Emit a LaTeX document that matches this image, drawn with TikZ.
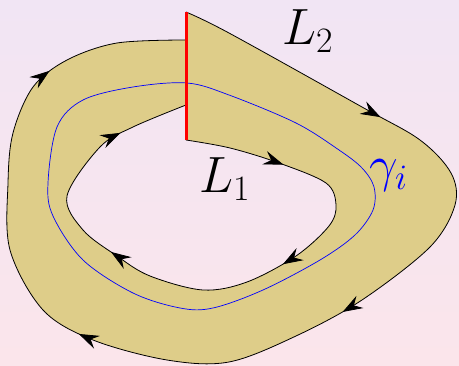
\RequirePackage{fix-cm}
\documentclass[tikz,border=0pt]{standalone}
\usetikzlibrary{arrows.meta,decorations.markings}
\definecolor{bgtop}{RGB}{241,229,244}
\definecolor{bgbot}{RGB}{251,229,235}
\definecolor{band}{RGB}{222,205,137}
\tikzset{myhead/.tip={Stealth[length=20pt,width=14pt,inset=7pt]}}
\begin{document}
\begin{tikzpicture}[x=1pt,y=-1pt,
  outerarrows/.style={postaction={decorate},decoration={markings,
    mark=at position 0.18 with {\arrow{myhead}},
    mark=at position 0.41 with {\arrow{myhead}},
    mark=at position 0.637 with {\arrow{myhead}},
    mark=at position 0.884 with {\arrow{myhead}}}},
  innerarrows/.style={postaction={decorate},decoration={markings,
    mark=at position 0.15 with {\arrow{myhead}},
    mark=at position 0.38 with {\arrow{myhead}},
    mark=at position 0.657 with {\arrow{myhead}},
    mark=at position 0.894 with {\arrow{myhead}}}},
  lbl/.style={inner sep=0pt,anchor=base west,font=\fontsize{51}{60}\selectfont}]
\useasboundingbox (0,0) rectangle (459,366);
\shade[top color=bgtop,bottom color=bgbot] (0,0) rectangle (459,366);
% band
\fill[band,even odd rule]
  plot[smooth,tension=.55] coordinates {(186,12) (229,33) (362,107) (420,140) (451,173) (455,205) (430,247) (362,300) (296,336) (229,362) (167,360) (93,340) (43,310) (10,250) (8,183) (13,133) (33,87) (67,60) (117,43) (186,40)} -- cycle
  plot[smooth,tension=.55] coordinates {(186,140) (230,148) (279,163) (326,183) (336,205) (329,226) (296,256) (247,282) (203,290) (150,276) (117,256) (83,230) (67,196) (100,147) (133,127) (186,105)} -- cycle;
% outer boundary L2
\draw[line width=0.8pt,outerarrows]
  plot[smooth,tension=.55] coordinates {(186,12) (229,33) (362,107) (420,140) (451,173) (455,205) (430,247) (362,300) (296,336) (229,362) (167,360) (93,340) (43,310) (10,250) (8,183) (13,133) (33,87) (67,60) (117,43) (186,40)};
% inner boundary L1
\draw[line width=0.8pt,innerarrows]
  plot[smooth,tension=.55] coordinates {(186,140) (230,148) (279,163) (326,183) (336,205) (329,226) (296,256) (247,282) (203,290) (150,276) (117,256) (83,230) (67,196) (100,147) (133,127) (186,105)};
% gamma_i
\draw[blue,line width=0.7pt]
  plot[smooth cycle,tension=.55] coordinates {(187,83) (229,95) (296,123) (339,150) (362,168) (374,187) (373,210) (355,235) (320,260) (263,290) (213,308) (180,308) (133,293) (83,260) (53,216) (48,183) (57,127) (83,100) (133,87)};
% cut
\coordinate (cuttop) at (186,12);
\coordinate (cutbot) at (186,140);
\draw[red,line width=3pt] (cuttop) -- (cutbot);
% labels
\node[lbl] (L2) at (282,45) {$L_2$};
\node[lbl] (L1) at (199,193) {$L_1$};
\node[lbl,text=blue] (gam) at (369,182) {$\gamma_i$};
\end{tikzpicture}
\end{document}
